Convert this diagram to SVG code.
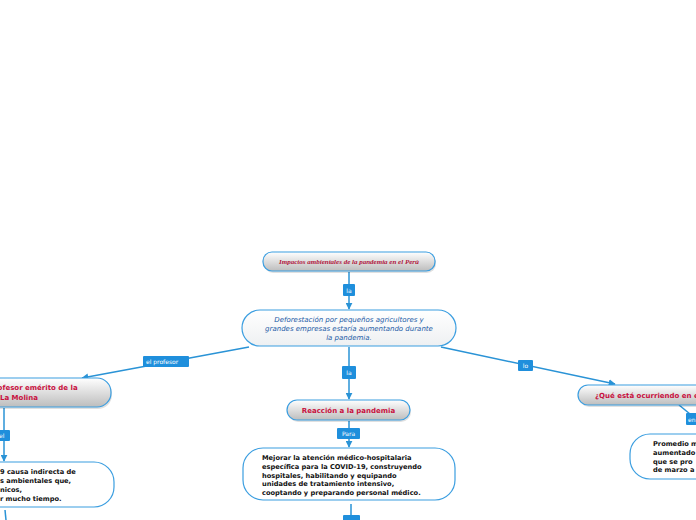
<svg xmlns="http://www.w3.org/2000/svg" width="696" height="520" viewBox="0 0 696 520">
<defs>
<linearGradient id="g" x1="0" y1="0" x2="0" y2="1">
<stop offset="0" stop-color="#ffffff"/>
<stop offset="1" stop-color="#bdbdbd"/>
</linearGradient>
<linearGradient id="w" x1="0" y1="0" x2="0" y2="1">
<stop offset="0" stop-color="#ffffff"/>
<stop offset="1" stop-color="#eef0f2"/>
</linearGradient>
<marker id="ah" viewBox="0 0 10 10" refX="9" refY="5" markerWidth="7" markerHeight="7" markerUnits="userSpaceOnUse" orient="auto">
<path d="M0,0 L10,5 L0,10 z" fill="#2a93d6"/>
</marker>
</defs>
<style>
.c{stroke:#2a93d6;stroke-width:1.5;fill:none}
.lb{fill:#1f8fdc}
.lt{font-family:"DejaVu Sans",sans-serif;font-size:6px;fill:#ffffff}
.nb{stroke:#3b9ee0;stroke-width:1.2}
.sh{fill:#000;opacity:0.12}
.red{font-family:"DejaVu Sans",sans-serif;font-weight:bold;font-size:7px;fill:#c8103e}
.blk{font-family:"DejaVu Sans",sans-serif;font-weight:bold;font-size:6.65px;fill:#111}
.blu{font-family:"DejaVu Sans",sans-serif;font-style:italic;font-size:7px;fill:#1a5aa6}
.ttl{font-family:"Liberation Serif",serif;font-weight:bold;font-style:italic;font-size:7px;fill:#b0163c}
</style>
<rect width="696" height="520" fill="#ffffff"/>
<g id="connectors">
<line class="c" x1="349" y1="272" x2="349" y2="309" marker-end="url(#ah)"/>
<line class="c" x1="249" y1="347" x2="82" y2="378" marker-end="url(#ah)"/>
<line class="c" x1="349" y1="347" x2="349" y2="399" marker-end="url(#ah)"/>
<line class="c" x1="441" y1="347" x2="615" y2="384" marker-end="url(#ah)"/>
<line class="c" x1="4" y1="408" x2="4" y2="461" marker-end="url(#ah)"/>
<line class="c" x1="349" y1="421" x2="349" y2="447" marker-end="url(#ah)"/>
<line class="c" x1="679" y1="405" x2="690" y2="414"/>
<line class="c" x1="5" y1="510" x2="6" y2="520"/>
<line class="c" x1="351" y1="504" x2="351" y2="516"/>
<rect class="lb" x="343" y="284" width="12" height="12" rx="1"/>
<text class="lt" x="349" y="292.5" text-anchor="middle">la</text>
<rect class="lb" x="143" y="356" width="46" height="11" rx="1"/>
<text class="lt" x="146" y="364">el profesor</text>
<rect class="lb" x="342" y="366" width="14" height="13" rx="1"/>
<text class="lt" x="349" y="374.5" text-anchor="middle">la</text>
<rect class="lb" x="518" y="360" width="15" height="11" rx="1"/>
<text class="lt" x="525.5" y="368" text-anchor="middle">lo</text>
<rect class="lb" x="-4" y="430" width="14" height="11" rx="1"/>
<text class="lt" x="-1" y="438">el</text>
<rect class="lb" x="337" y="428" width="23" height="11" rx="1"/>
<text class="lt" x="348.5" y="436" text-anchor="middle">Para</text>
<rect class="lb" x="686" y="413" width="16" height="12" rx="1"/>
<text class="lt" x="688" y="421.5">en</text>
<rect class="lb" x="343" y="515" width="17" height="10" rx="1"/>
</g>
<g id="n-title">
<rect class="sh" x="264" y="254" width="172" height="19" rx="9"/>
<rect class="nb" x="263" y="252" width="172" height="19" rx="9" fill="url(#g)"/>
<text class="ttl" x="349" y="264" text-anchor="middle">Impactos ambientales de la pandemia en el Perú</text>
</g>
<g id="n-deforestacion">
<rect class="nb" x="242" y="310" width="214" height="36" rx="18" fill="url(#w)"/>
<text class="blu" text-anchor="middle"><tspan x="349" y="322">Deforestación por pequeños agricultores y</tspan><tspan x="349" y="331">grandes empresas estaría aumentando durante</tspan><tspan x="349" y="340">la pandemia.</tspan></text>
</g>
<g id="n-profesor">
<rect class="sh" x="-20" y="380" width="132" height="29" rx="14"/>
<rect class="nb" x="-21" y="378" width="132" height="29" rx="14" fill="url(#g)"/>
<text class="red"><tspan x="-11" y="390">Profesor emérito de la</tspan><tspan x="0" y="400">La Molina</tspan></text>
</g>
<g id="n-covid">
<rect class="nb" x="-40" y="462" width="154" height="45" rx="20" fill="#ffffff"/>
<text class="blk"><tspan x="0" y="474">9 causa indirecta de</tspan><tspan x="0" y="483">s ambientales que,</tspan><tspan x="0" y="492">nicos,</tspan><tspan x="0" y="501">r mucho tiempo.</tspan></text>
</g>
<g id="n-reaccion">
<rect class="sh" x="288" y="402" width="123" height="20" rx="10"/>
<rect class="nb" x="287" y="400" width="123" height="20" rx="10" fill="url(#g)"/>
<text class="red" x="348.5" y="412.5" text-anchor="middle">Reacción a la pandemia</text>
</g>
<g id="n-mejorar">
<rect class="nb" x="243" y="448" width="212" height="52" rx="20" fill="#ffffff"/>
<text class="blk"><tspan x="262" y="460">Mejorar la atención médico-hospitalaria</tspan><tspan x="262" y="469">específica para la COVID-19, construyendo</tspan><tspan x="262" y="477.5">hospitales, habilitando y equipando</tspan><tspan x="262" y="486">unidades de tratamiento intensivo,</tspan><tspan x="262" y="494.5">cooptando y preparando personal médico.</tspan></text>
</g>
<g id="n-que">
<rect class="sh" x="579" y="387" width="150" height="20" rx="10"/>
<rect class="nb" x="578" y="385" width="150" height="20" rx="10" fill="url(#g)"/>
<text class="red" x="595" y="397.5">¿Qué está ocurriendo en el Perú?</text>
</g>
<g id="n-promedio">
<rect class="nb" x="630" y="434" width="120" height="45" rx="20" fill="#ffffff"/>
<text class="blk"><tspan x="653" y="446">Promedio m</tspan><tspan x="653" y="455">aumentado</tspan><tspan x="653" y="463.5">que se pro</tspan><tspan x="653" y="472">de marzo a</tspan></text>
</g>
</svg>
